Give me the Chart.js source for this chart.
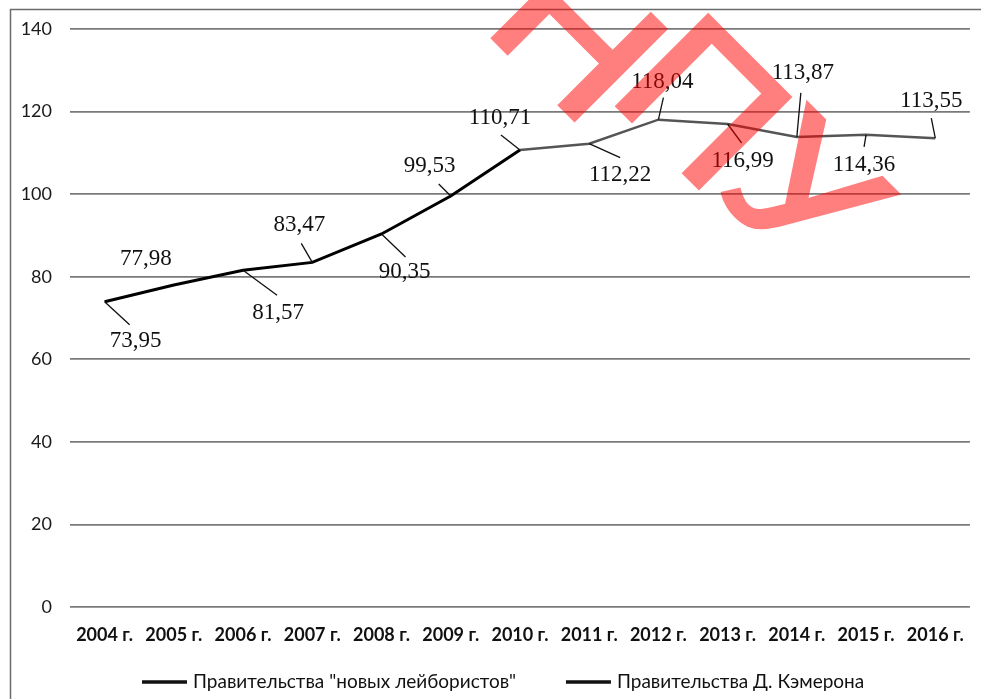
<!DOCTYPE html>
<html>
<head>
<meta charset="utf-8">
<script src="https://cdn.jsdelivr.net/npm/chart.js@4.4.0/dist/chart.umd.min.js"></script>
<style>
    html, body { margin: 0; padding: 0; background: #fff; }
    #wrap { width: 981px; height: 699px; }
</style>
</head>
<body>
<div id="wrap"><canvas id="chart" width="981" height="699"></canvas></div>
<script>
// categories
const years = ['2004 г.', '2005 г.', '2006 г.', '2007 г.', '2008 г.', '2009 г.', '2010 г.',
    '2011 г.', '2012 г.', '2013 г.', '2014 г.', '2015 г.', '2016 г.'];
// series
const labourValues = [73.95, 77.98, 81.57, 83.47, 90.35, 99.53, 110.71, null, null, null, null, null, null];
const cameronValues = [null, null, null, null, null, null, 110.71, 112.22, 118.04, 116.99, 113.87, 114.36, 113.55];
// y ticks
const yTicks = [0, 20, 40, 60, 80, 100, 120, 140];

// смещения подписей относительно точки: [dx, dy, конец выноски dx, dy]
const labelPos = [
    [31, 39, 25, 23],
    [-28, -26, null, null],
    [35, 43, 34, 25],
    [-13, -37, -11, -19],
    [23, 38, 24, 23],
    [-21, -30, -12, -12],
    [-20, -32, -19, -15],
    [31, 31, 31, 14],
    [4, -38, 5, -22],
    [15, 37, 14, 19],
    [6, -64, 4, -44],
    [-2, 30, -2, 12],
    [-4, -37, -4, -20]
];

const fmt = v => v.toFixed(2).replace('.', ',');

// рамка и фон
const framePlugin = {
    id: 'frame',
    beforeDraw(chart) {
        const ctx = chart.ctx;
        ctx.save();
        ctx.fillStyle = '#fff';
        ctx.fillRect(0, 0, chart.width, chart.height);
        ctx.strokeStyle = '#6b6b6b';
        ctx.lineWidth = 1.5;
        ctx.beginPath();
        ctx.moveTo(10.5, chart.height + 5);
        ctx.lineTo(10.5, 9.5);
        ctx.lineTo(chart.width + 5, 9.5);
        ctx.stroke();
        ctx.restore();
    }
};

// подписи значений с выносками
const labelPlugin = {
    id: 'pointLabels',
    afterDatasetsDraw(chart) {
        const ctx = chart.ctx;
        ctx.save();
        ctx.font = '23px "Liberation Serif"';
        ctx.textAlign = 'center';
        ctx.textBaseline = 'middle';
        ctx.fillStyle = '#111';
        ctx.strokeStyle = '#111';
        ctx.lineWidth = 1.3;
        chart.data.datasets.forEach((ds, di) => {
            const meta = chart.getDatasetMeta(di);
            meta.data.forEach((pt, i) => {
                const v = ds.data[i];
                if (v == null) return;
                if (di === 1 && labourValues[i] != null) return;
                const o = labelPos[i];
                if (o[2] != null) {
                    ctx.beginPath();
                    ctx.moveTo(pt.x, pt.y);
                    ctx.lineTo(pt.x + o[2], pt.y + o[3]);
                    ctx.stroke();
                }
                ctx.fillText(fmt(v), pt.x + o[0], pt.y + o[1]);
            });
        });
        ctx.restore();
    }
};

// легенда внизу
const legendPlugin = {
    id: 'bottomLegend',
    afterDraw(chart) {
        const ctx = chart.ctx;
        ctx.save();
        ctx.font = '19px Lato';
        ctx.textBaseline = 'middle';
        ctx.fillStyle = '#111';
        ctx.strokeStyle = '#111';
        ctx.lineWidth = 3.5;
        const y = 682;
        let x = 142;
        chart.data.datasets.forEach((ds, i) => {
            ctx.beginPath();
            ctx.moveTo(x, y);
            ctx.lineTo(x + 45, y);
            ctx.stroke();
            x += 51;
            ctx.fillText(ds.label, x, y);
            x += ctx.measureText(ds.label).width + 50;
        });
        ctx.restore();
    }
};

// водяной знак (рисуется отдельно и накладывается полупрозрачно)
const stampPlugin = {
    id: 'stamp',
    afterDraw(chart) {
        const off = document.createElement('canvas');
        off.width = chart.width;
        off.height = chart.height;
        const c = off.getContext('2d');
        c.rotate(Math.PI / 4);
        c.font = '185px "Liberation Sans"';
        c.fillStyle = '#ff0000';
        c.strokeStyle = '#ff0000';
        c.lineWidth = 5;
        // [буква, позиция вдоль строки, высота базовой линии]
        [['Н', 360, 322], ['П', 496, 362], ['У', 640, 370]].forEach(([ch, u, v]) => {
            c.save();
            c.translate(u, -v);
            c.scale(1.1, 1);
            c.fillText(ch, 0, 0);
            c.strokeText(ch, 0, 0);
            c.restore();
        });
        const ctx = chart.ctx;
        ctx.save();
        ctx.setTransform(1, 0, 0, 1, 0, 0);
        ctx.globalAlpha = 0.5;
        ctx.drawImage(off, 0, 0);
        ctx.restore();
    }
};

const ctx = document.getElementById('chart').getContext('2d');
new Chart(ctx, {
    type: 'line',
    data: {
        labels: years,
        datasets: [{
            label: 'Правительства "новых лейбористов"',
            data: labourValues,
            borderColor: '#000',
            borderWidth: 3,
            pointRadius: 0,
            tension: 0,
            spanGaps: false
        }, {
            label: 'Правительства Д. Кэмерона',
            data: cameronValues,
            borderColor: '#555',
            borderWidth: 2.5,
            pointRadius: 0,
            tension: 0,
            spanGaps: false
        }]
    },
    options: {
        responsive: false,
        animation: false,
        layout: { padding: { left: 0, top: 29, right: 6, bottom: 0 } },
        plugins: {
            legend: { display: false },
            tooltip: { enabled: false }
        },
        scales: {
            x: {
                offset: true,
                grid: { display: false, drawTicks: false },
                border: { display: false },
                ticks: {
                    color: '#111',
                    font: { family: 'Lato', size: 18, weight: 'bold' },
                    padding: 17,
                    maxRotation: 0,
                    autoSkip: false
                },
                afterFit(scale) { scale.height = 92; }
            },
            y: {
                min: 0,
                max: 140,
                afterBuildTicks(scale) { scale.ticks = yTicks.map(v => ({ value: v })); },
                grid: { color: '#7a7a7a', lineWidth: 1.8, drawTicks: false },
                border: { display: false },
                ticks: {
                    color: '#1a1a1a',
                    font: { family: 'Lato', size: 18 },
                    padding: 18
                },
                afterFit(scale) { scale.width = 70; }
            }
        }
    },
    plugins: [framePlugin, labelPlugin, legendPlugin, stampPlugin]
});
</script>
</body>
</html>
